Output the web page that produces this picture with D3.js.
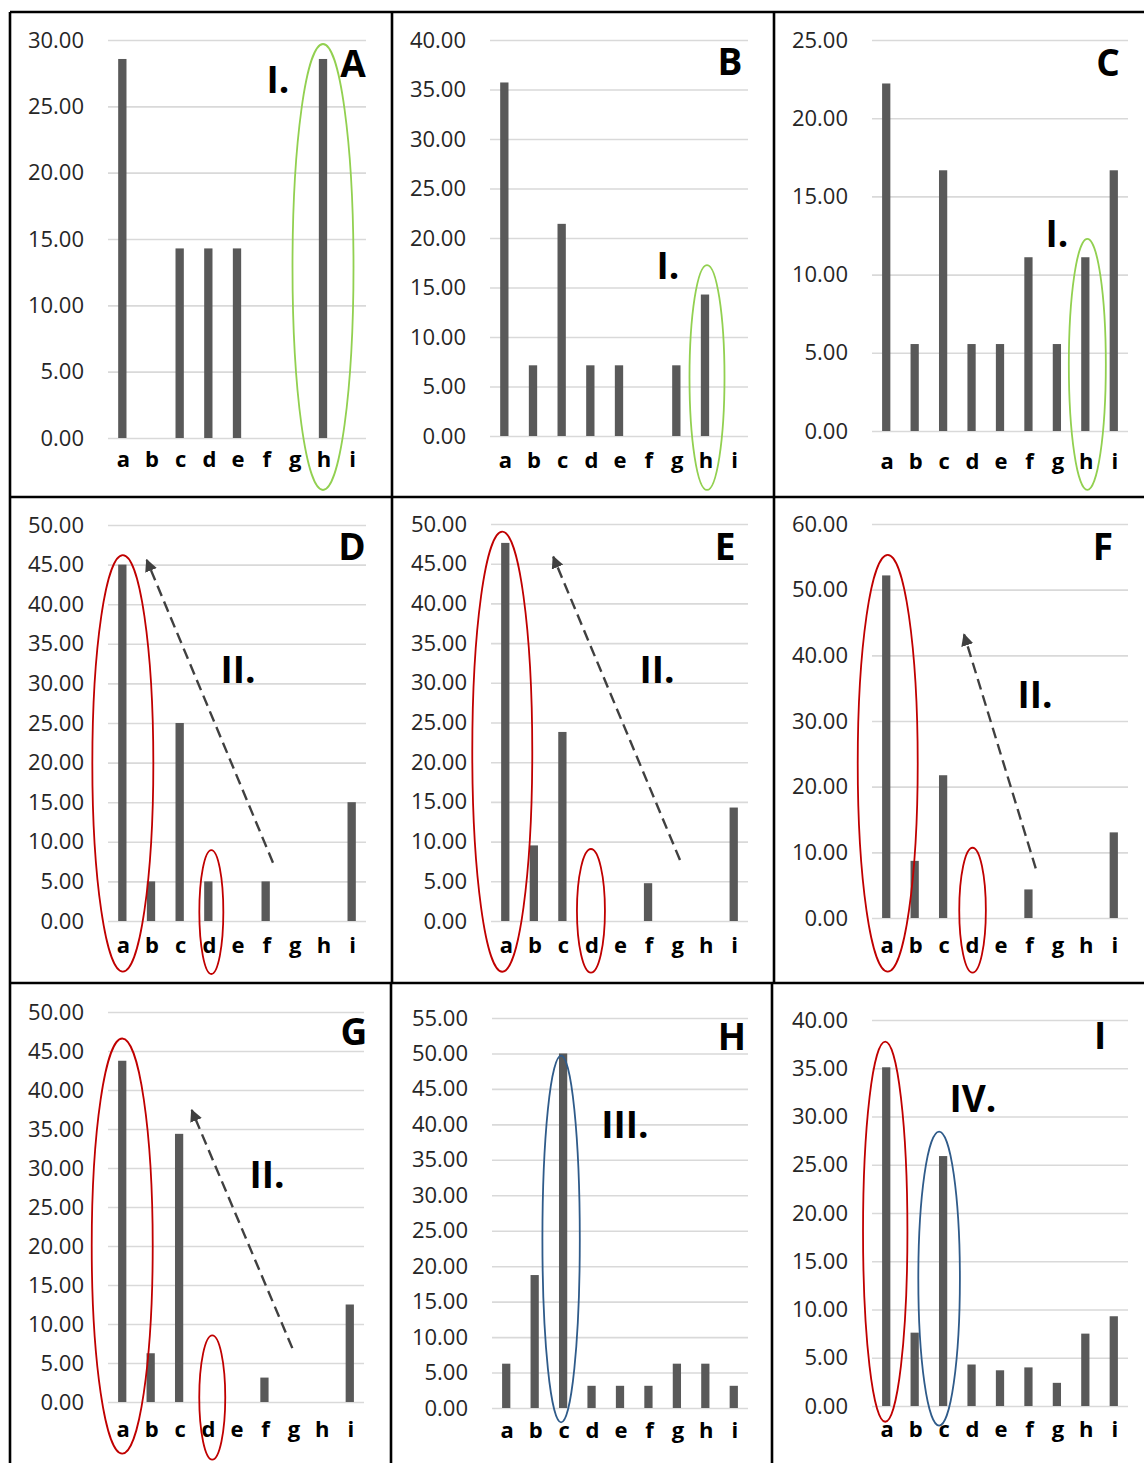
<!DOCTYPE html>
<html><head><meta charset="utf-8">
<script src="https://cdn.jsdelivr.net/npm/d3@7"></script>
<style>body{margin:0;background:#fff}svg{display:block}</style>
</head><body>
<svg id="chart" width="1144" height="1463"></svg>
<script>
// ---------- data ----------
const categories = ["a","b","c","d","e","f","g","h","i"];
const panelNames = ["A","B","C","D","E","F","G","H","I"];
const noteLabels = ["I.","I.","I.","II.","II.","II.","II.","III.","IV."];

const valuesA = [28.57, 0, 14.29, 14.29, 14.29, 0, 0, 28.57, 0];
const valuesB = [35.71, 7.14, 21.43, 7.14, 7.14, 0, 7.14, 14.29, 0];
const valuesC = [22.22, 5.56, 16.67, 5.56, 5.56, 11.11, 5.56, 11.11, 16.67];
const valuesD = [45.00, 5.00, 25.00, 5.00, 0, 5.00, 0, 0, 15.00];
const valuesE = [47.62, 9.52, 23.81, 0, 0, 4.76, 0, 0, 14.29];
const valuesF = [52.17, 8.70, 21.74, 0, 0, 4.35, 0, 0, 13.04];
const valuesG = [43.75, 6.25, 34.38, 0, 0, 3.13, 0, 0, 12.50];
const valuesH = [6.25, 18.75, 50.00, 3.13, 3.13, 3.13, 6.25, 6.25, 3.13];
const valuesI = [35.10, 7.60, 25.90, 4.30, 3.70, 4.00, 2.40, 7.50, 9.30];

const ticksA = [0,5,10,15,20,25,30];
const ticksB = [0,5,10,15,20,25,30,35,40];
const ticksC = [0,5,10,15,20,25];
const ticksD = [0,5,10,15,20,25,30,35,40,45,50];
const ticksE = [0,5,10,15,20,25,30,35,40,45,50];
const ticksF = [0,10,20,30,40,50,60];
const ticksG = [0,5,10,15,20,25,30,35,40,45,50];
const ticksH = [0,5,10,15,20,25,30,35,40,45,50,55];
const ticksI = [0,5,10,15,20,25,30,35,40];

const allValues = [valuesA,valuesB,valuesC,valuesD,valuesE,valuesF,valuesG,valuesH,valuesI];
const allTicks = [ticksA,ticksB,ticksC,ticksD,ticksE,ticksF,ticksG,ticksH,ticksI];

// ---------- layout (pixels / styling) ----------
const layout = [
  {x0:108,x1:366,yTop:40, yZero:438, lab:467, L:[353,77],  N:[278,93],
   ell:[{cat:"h",dx:0,top:29.7,bot:-3.92,rx:30.5,c:"#92d050"}]},
  {x0:490,x1:748,yTop:40, yZero:436, lab:468, L:[730,75],  N:[668,279],
   ell:[{cat:"h",dx:2,top:17.27,bot:-5.45,rx:17.5,c:"#92d050"}]},
  {x0:872,x1:1128,yTop:40,yZero:431, lab:469, L:[1108,76], N:[1057,247],
   ell:[{cat:"h",dx:2,top:12.28,bot:-3.77,rx:18.5,c:"#92d050"}]},
  {x0:108,x1:366,yTop:525,yZero:921, lab:953, L:[352,560], N:[238,683],
   ell:[{cat:"a",dx:0.5,top:46.2,bot:-6.4,rx:30.5,c:"#c00000"},{cat:"d",dx:3,top:8.96,bot:-6.69,rx:12,c:"#c00000"}],
   arrow:{from:[5.255,7.36],to:[0.85,45.58]}},
  {x0:491,x1:748,yTop:524,yZero:921, lab:953, L:[725,560], N:[657,683],
   ell:[{cat:"a",dx:-3,top:49.03,bot:-6.39,rx:30,c:"#c00000"},{cat:"d",dx:0,top:9.07,bot:-6.51,rx:14,c:"#c00000"}],
   arrow:{from:[6.118,7.68],to:[1.68,45.88]}},
  {x0:872,x1:1128,yTop:524,yZero:918, lab:953, L:[1103,560], N:[1035,708],
   ell:[{cat:"a",dx:1.5,top:55.3,bot:-8.18,rx:30,c:"#c00000"},{cat:"d",dx:1,top:10.7,bot:-8.33,rx:13.3,c:"#c00000"}],
   arrow:{from:[5.256,7.57],to:[2.735,43.2]}},
  {x0:108,x1:364,yTop:1012,yZero:1402, lab:1437, L:[354,1045], N:[267,1188],
   ell:[{cat:"a",dx:0,top:46.6,bot:-6.62,rx:30.5,c:"#c00000"},{cat:"d",dx:4.7,top:8.53,bot:-7.39,rx:13,c:"#c00000"}],
   arrow:{from:[5.98,6.91],to:[2.443,37.43]}},
  {x0:492,x1:748,yTop:1018,yZero:1408, lab:1438, L:[732,1050], N:[625,1138],
   ell:[{cat:"c",dx:-2,top:49.69,bot:-2.03,rx:18.7,c:"#2f5b8a"}]},
  {x0:872,x1:1128,yTop:1020,yZero:1406, lab:1437, L:[1100,1049], N:[973,1112],
   ell:[{cat:"a",dx:-1,top:37.75,bot:-1.63,rx:22.2,c:"#c00000"},{cat:"c",dx:-4,top:28.43,bot:-2.04,rx:20.8,c:"#2f5b8a"}]}
];

const FONT = "'Open Sans', 'DejaVu Sans', sans-serif";
const svg = d3.select("#chart");
svg.append("rect").attr("width",1144).attr("height",1463).attr("fill","#fff");

const defs = svg.append("defs");
defs.append("marker").attr("id","ah").attr("viewBox","0 0 10 10")
  .attr("refX",9).attr("refY",5).attr("markerWidth",5.2).attr("markerHeight",5.2)
  .attr("orient","auto").attr("markerUnits","strokeWidth")
  .append("path").attr("d","M0,0 L10,5 L0,10 z").attr("fill","#404040");

const fmt = d3.format(".2f");

layout.forEach((p, k) => {
  const vals = allValues[k];
  const ticks = allTicks[k];
  const x = d3.scaleBand().domain(categories).range([p.x0, p.x1]).paddingInner(0.71).paddingOuter(0.355);
  const y = d3.scaleLinear().domain([0, d3.max(ticks)]).range([p.yZero, p.yTop]);
  const step = x.step();
  const xi = i => p.x0 + (i + 0.5) * step;
  const g = svg.append("g");

  // y axis with gridlines
  const ya = g.append("g").attr("transform", `translate(${p.x0},0)`)
    .call(d3.axisLeft(y).tickValues(ticks).tickFormat(fmt).tickSize(-(p.x1 - p.x0)).tickPadding(24));
  ya.select(".domain").remove();
  ya.selectAll(".tick line").attr("stroke","#d9d9d9").attr("stroke-width",1.6);
  ya.selectAll(".tick text").attr("fill","#262626").style("font-family",FONT).style("font-size","22px");

  // bars
  g.append("g").selectAll("rect").data(categories).join("rect")
    .attr("x", d => x(d)).attr("width", x.bandwidth())
    .attr("y", (d,i) => y(vals[i])).attr("height", (d,i) => y(0) - y(vals[i]))
    .attr("fill","#595959");

  // x axis labels
  const fs = 22;
  const xa = g.append("g").attr("transform", `translate(1,${p.yZero})`)
    .call(d3.axisBottom(x).tickSize(0).tickPadding(p.lab - p.yZero - 0.71*fs));
  xa.select(".domain").remove();
  xa.selectAll(".tick text").attr("fill","#000").style("font-family",FONT)
    .style("font-size",fs+"px").style("font-weight","700");

  // ellipses
  p.ell.forEach(e => {
    const cx = x(e.cat) + x.bandwidth()/2 + e.dx;
    const yt = y(e.top), yb = y(e.bot);
    g.append("ellipse").attr("cx",cx).attr("cy",(yt+yb)/2).attr("rx",e.rx).attr("ry",(yb-yt)/2)
      .attr("fill","none").attr("stroke",e.c).attr("stroke-width",1.8);
  });

  // dashed arrow
  if (p.arrow) {
    g.append("line")
      .attr("x1", xi(p.arrow.from[0])).attr("y1", y(p.arrow.from[1]))
      .attr("x2", xi(p.arrow.to[0])).attr("y2", y(p.arrow.to[1]))
      .attr("stroke","#404040").attr("stroke-width",2.4).attr("stroke-dasharray","11,6")
      .attr("marker-end","url(#ah)");
  }

  // panel letter and note label
  g.append("text").attr("x",p.L[0]).attr("y",p.L[1]).attr("text-anchor","middle")
    .style("font-family",FONT).style("font-size","37px").style("font-weight","700").text(panelNames[k]);
  g.append("text").attr("x",p.N[0]).attr("y",p.N[1]).attr("text-anchor","middle")
    .style("font-family",FONT).style("font-size","37px").style("font-weight","700").text(noteLabels[k]);
});

// panel borders
const borders = svg.append("g").attr("stroke","#000").attr("stroke-width",2.6);
[[10,12,1144,12],[10,497,1144,497],[10,983,1144,983],
 [10,12,10,1463],[392,12,392,983],[774,12,774,983],[391,983,391,1463],[772,983,772,1463]]
 .forEach(s => borders.append("line").attr("x1",s[0]).attr("y1",s[1]).attr("x2",s[2]).attr("y2",s[3]));
</script>
</body></html>
